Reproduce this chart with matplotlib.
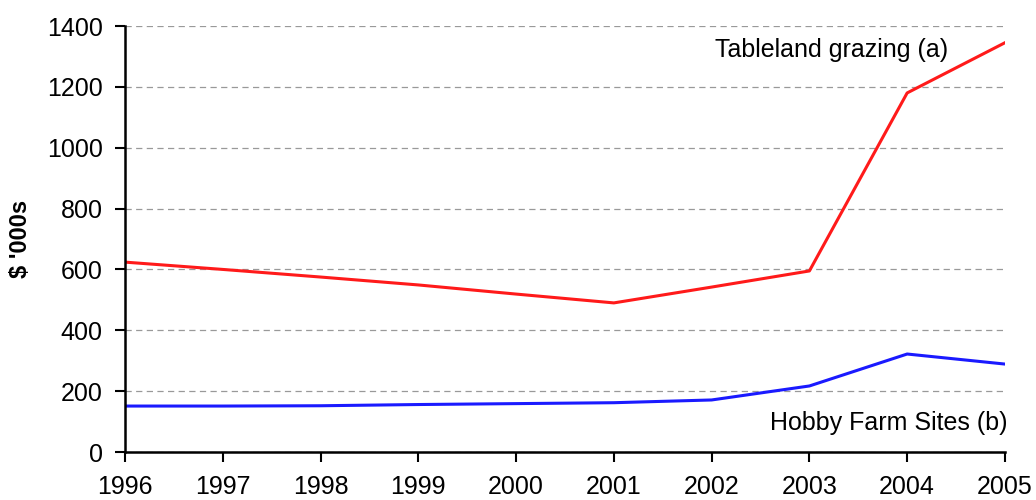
import matplotlib
matplotlib.use("Agg")
import matplotlib.pyplot as plt

plt.rcParams['font.family'] = ['Liberation Sans', 'DejaVu Sans']

years = [1996, 1997, 1998, 1999, 2000, 2001, 2002, 2003, 2004, 2005]
tableland = [624, 600, 575, 549, 519, 490, 542, 595, 1180, 1345]
hobby = [151, 151, 152, 156, 159, 162, 171, 217, 322, 289]
yticks = [0, 200, 400, 600, 800, 1000, 1200, 1400]

fig = plt.figure(figsize=(10.36, 5.0), dpi=100)
ax = fig.add_axes([0.1207, 0.096, 0.8493, 0.852])

ax.plot(years, tableland, color='#ff1a1a', linewidth=2.2)
ax.plot(years, hobby, color='#1a1aff', linewidth=2.2)

ax.set_xlim(1996, 2005)
ax.set_ylim(0, 1400)
ax.set_xticks(years)
ax.set_yticks(yticks)
ax.tick_params(axis='both', direction='out', length=7, width=1.5, labelsize=18, pad=9)
ax.tick_params(axis='x', pad=9.5)
ax.yaxis.grid(True, linestyle=(0, (5, 3.5)), color='#999999', linewidth=0.9)
ax.set_axisbelow(True)
for s in ['top', 'right']:
    ax.spines[s].set_visible(False)
ax.spines['left'].set_linewidth(1.8)
ax.spines['bottom'].set_linewidth(1.8)

ax.set_ylabel("$ '000s", fontsize=17, fontweight='bold')
ax.yaxis.set_label_coords(-0.106, 0.5)

ax.text(2002.03, 1321, 'Tableland grazing (a)', fontsize=18, ha='left', va='center')
ax.text(2005.03, 95, 'Hobby Farm Sites (b)', fontsize=18, ha='right', va='center')

fig.savefig('out.png', dpi=100)
